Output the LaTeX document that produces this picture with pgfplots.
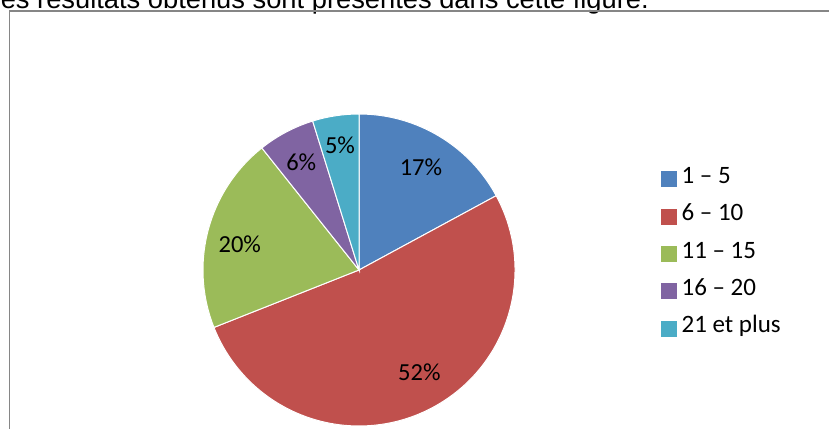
\documentclass[border=0pt]{standalone}
\usepackage{pgfplots}
\pgfplotsset{compat=1.18}
\usepackage{fontspec}
\setmainfont{Carlito}
\newfontfamily\arialfont{Liberation Sans}
\definecolor{cA}{HTML}{4F81BD}
\definecolor{cB}{HTML}{C0504D}
\definecolor{cC}{HTML}{9BBB59}
\definecolor{cD}{HTML}{8064A2}
\definecolor{cE}{HTML}{4BACC6}
\definecolor{framec}{HTML}{868686}
\begin{document}
\begin{tikzpicture}
\useasboundingbox (0bp,0bp) rectangle (829bp,429bp);
\node[anchor=base east, inner sep=0pt, font=\arialfont\fontsize{27.3bp}{32bp}\selectfont] at (649bp,420bp) {Les résultats obtenus sont présentés dans cette figure.};
\draw[framec, line width=1.6bp] (845bp,418bp) -- (9.3bp,418bp) -- (9.3bp,-10bp);
\begin{axis}[at={(359bp,159bp)}, anchor=center, scale only axis, width=312bp, height=312bp,
  xmin=-1, xmax=1, ymin=-1, ymax=1, hide axis, clip=false,
  legend image code/.code={\fill[#1] (0bp,-7.5bp) rectangle (15bp,7.5bp);},
  legend cell align=left,
  legend style={at={(1.468,0.832)}, anchor=north west, draw=none, fill=none,
    inner sep=0pt, column sep=5bp, row sep=12.3bp,
    font=\fontsize{25bp}{30bp}\selectfont,
    nodes={inner sep=0pt, text height=17bp, text depth=8bp}},
]
\def\angA{90}
\foreach \p/\c in {17.1/cA, 51.9/cB, 20.3/cC, 5.9/cD, 4.8/cE}{
  \pgfmathsetmacro\angB{\angA-3.6*\p}
  \edef\doit{\noexpand\fill[\c, draw=white, line width=1bp] (axis cs:0,0) -- (axis cs:{cos(\angA)},{sin(\angA)}) arc[start angle=\angA, end angle=\angB, radius=156bp] -- cycle;}
  \doit
  \global\let\angA\angB
}
\addlegendimage{cA}\addlegendentry{1 – 5}
\addlegendimage{cB}\addlegendentry{6 – 10}
\addlegendimage{cC}\addlegendentry{11 – 15}
\addlegendimage{cD}\addlegendentry{16 – 20}
\addlegendimage{cE}\addlegendentry{21 et plus}
\begin{scope}[font=\fontsize{24.5bp}{29bp}\selectfont]
\node at (axis cs:0.397,0.656) {17\%};
\node at (axis cs:0.387,-0.658) {52\%};
\node at (axis cs:-0.764,0.163) {20\%};
\node at (axis cs:-0.37,0.692) {6\%};
\node at (axis cs:-0.122,0.798) {5\%};
\end{scope}
\end{axis}
\end{tikzpicture}
\end{document}
